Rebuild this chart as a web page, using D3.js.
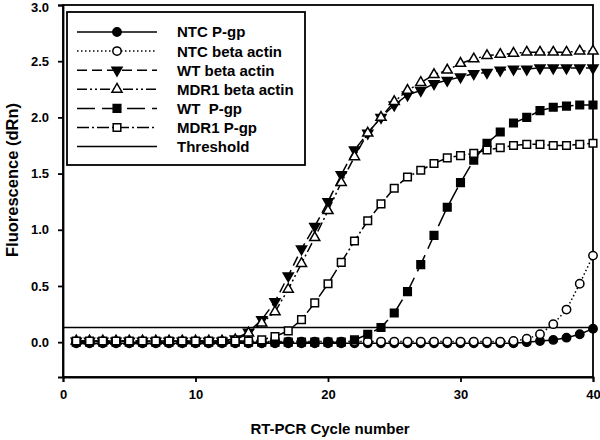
<!DOCTYPE html>
<html><head><meta charset="utf-8">
<script src="https://cdn.jsdelivr.net/npm/d3@7"></script>
<style>
body{margin:0;background:#fff;}
text{font-family:"Liberation Sans",Arial,sans-serif;font-weight:bold;fill:#000;}
</style></head>
<body><svg id="c" width="600" height="440"></svg>
<script>
const cycles = d3.range(1, 41);
const ntcPgp = [-0.01,-0.01,-0.01,-0.01,-0.01,-0.01,-0.01,-0.01,-0.01,-0.01,-0.01,-0.01,-0.01,-0.01,-0.01,-0.01,-0.01,-0.01,-0.01,-0.01,-0.01,-0.01,-0.01,-0.01,-0.01,-0.01,-0.01,-0.01,-0.01,-0.01,-0.01,-0.01,-0.01,-0.01,0.0,0.01,0.02,0.04,0.07,0.12];
const ntcActin = [0.005,0.005,0.005,0.005,0.005,0.005,0.005,0.005,0.005,0.005,0.005,0.005,0.005,0.005,0.005,0.005,0.005,0.005,0.005,0.005,0.005,0.005,0.005,0.005,0.005,0.005,0.005,0.005,0.005,0.005,0.005,0.005,0.005,0.01,0.03,0.07,0.16,0.29,0.52,0.77];
const wtActin = [0.01,0.01,0.01,0.01,0.01,0.01,0.01,0.01,0.01,0.01,0.01,0.01,0.03,0.09,0.20,0.36,0.59,0.83,1.03,1.25,1.49,1.71,1.86,2.00,2.11,2.20,2.24,2.30,2.33,2.36,2.39,2.40,2.42,2.43,2.43,2.44,2.44,2.44,2.44,2.44];
const mdrActin = [0.01,0.01,0.01,0.01,0.01,0.01,0.01,0.01,0.01,0.01,0.01,0.01,0.02,0.08,0.17,0.27,0.47,0.70,0.93,1.17,1.42,1.65,1.86,2.00,2.14,2.24,2.31,2.38,2.42,2.48,2.52,2.55,2.56,2.57,2.58,2.58,2.58,2.58,2.59,2.59];
const wtPgp = [0,0,0,0,0,0,0,0,0,0,0,0,0,0,0,0,0,0,0,0,0,0.02,0.07,0.13,0.26,0.45,0.69,0.95,1.20,1.42,1.62,1.77,1.87,1.95,2.00,2.06,2.09,2.10,2.11,2.11];
const mdrPgp = [0.01,0.01,0.01,0.01,0.01,0.01,0.01,0.01,0.01,0.01,0.01,0.01,0.01,0.01,0.02,0.05,0.10,0.20,0.35,0.52,0.71,0.90,1.08,1.23,1.37,1.47,1.53,1.59,1.64,1.66,1.68,1.71,1.73,1.75,1.76,1.76,1.75,1.75,1.76,1.77];
const threshold = 0.13;
const seriesNames = ["NTC P-gp","NTC beta actin","WT beta actin","MDR1 beta actin","WT  P-gp","MDR1 P-gp","Threshold"];
const xTicks = [0,10,20,30,40];
const yTicks = [0,0.5,1,1.5,2,2.5,3];

const styles = [
  {dash:null, sym:d3.symbolCircle, size:55, fill:"#000", rot:0},
  {dash:"1.5,2.5", sym:d3.symbolCircle, size:55, fill:"#fff", rot:0},
  {dash:"10,5", sym:d3.symbolTriangle, size:44, fill:"#000", rot:180},
  {dash:"10,3,2,3,2,3", sym:d3.symbolTriangle, size:44, fill:"#fff", rot:0},
  {dash:"18,7", sym:d3.symbolSquare, size:58, fill:"#000", rot:0},
  {dash:"12,3,2,3", sym:d3.symbolSquare, size:58, fill:"#fff", rot:0},
  {dash:null, sym:null}
];
const seriesData = [ntcPgp, ntcActin, wtActin, mdrActin, wtPgp, mdrPgp];

const svg = d3.select("#c");
const L=63, R=593, T=5, B=377;
const x = d3.scaleLinear().domain([0,40]).range([L,R]);
const y = d3.scaleLinear().domain([-0.31,3]).range([B,T]);

svg.append("rect").attr("x",L).attr("y",T).attr("width",R-L).attr("height",B-T)
  .attr("fill","none").attr("stroke","#000").attr("stroke-width",1.8);

const xa = svg.append("g").attr("transform",`translate(0,${B})`)
  .call(d3.axisBottom(x).tickValues(xTicks).tickSize(5).tickPadding(8).tickFormat(d3.format("d")));
const ya = svg.append("g").attr("transform",`translate(${L},0)`)
  .call(d3.axisLeft(y).tickValues(yTicks).tickSize(5).tickPadding(9).tickFormat(d3.format(".1f")));
[xa,ya].forEach(a=>{
  a.select(".domain").attr("stroke","#000").attr("stroke-width",1.8);
  a.selectAll(".tick line").attr("stroke","#000").attr("stroke-width",1.8);
  a.selectAll(".tick text").style("font-size","13px").style("font-weight","bold")
    .style("font-family",'"Liberation Sans",Arial,sans-serif').attr("fill","#000");
});
ya.selectAll(".tick text").filter(d=>d===3).attr("dy","0.5em");

svg.append("line").attr("x1",L).attr("x2",R).attr("y1",y(threshold)).attr("y2",y(threshold))
  .attr("stroke","#000").attr("stroke-width",1.5);

const line = d3.line().x((d,i)=>x(cycles[i])).y(d=>y(d));
seriesData.forEach((vals,k)=>{
  const s = styles[k];
  svg.append("path").attr("d",line(vals)).attr("fill","none").attr("stroke","#000")
    .attr("stroke-width",1.5).attr("stroke-dasharray",s.dash);
  svg.append("g").selectAll("path").data(vals).join("path")
    .attr("d",d3.symbol().type(s.sym).size(s.size))
    .attr("transform",(d,i)=>`translate(${x(cycles[i])},${y(d)}) rotate(${s.rot})`)
    .attr("fill",s.fill).attr("stroke","#000").attr("stroke-width",1.5);
});

const lg = svg.append("g");
lg.append("rect").attr("x",67).attr("y",12).attr("width",238).attr("height",153)
  .attr("fill","#fff").attr("stroke","#000").attr("stroke-width",1.8);
seriesNames.forEach((n,k)=>{
  const yy = 32 + k*19.1;
  const s = styles[k];
  lg.append("line").attr("x1",77).attr("x2",157).attr("y1",yy).attr("y2",yy)
    .attr("stroke","#000").attr("stroke-width",1.5).attr("stroke-dasharray",s.dash);
  if (s.sym) lg.append("path").attr("d",d3.symbol().type(s.sym).size(s.size))
    .attr("transform",`translate(117,${yy}) rotate(${s.rot})`)
    .attr("fill",s.fill).attr("stroke","#000").attr("stroke-width",1.5);
  lg.append("text").attr("x",177).attr("y",yy).attr("dy","0.36em").style("font-size","15px").text(n)
    .attr("xml:space","preserve").style("white-space","pre");
});

svg.append("text").attr("x",330).attr("y",434).attr("text-anchor","middle").style("font-size","15px")
  .text("RT-PCR Cycle number");
svg.append("text").attr("transform","translate(18,180) rotate(-90)").attr("text-anchor","middle")
  .style("font-size","16.5px").text("Fluorescence (dRn)");
</script></body></html>
